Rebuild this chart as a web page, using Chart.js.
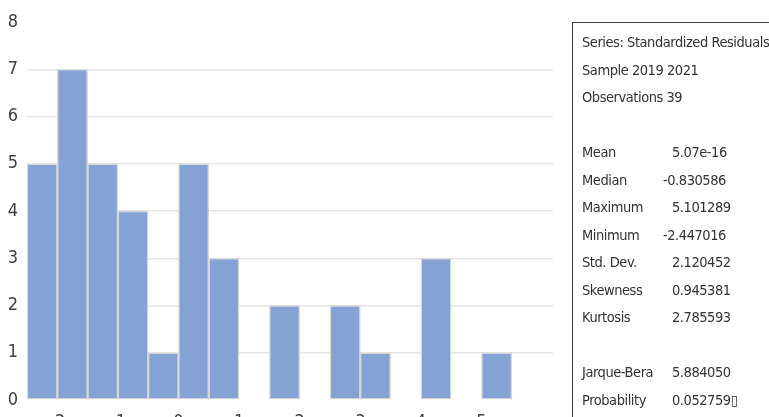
<!DOCTYPE html>
<html>
<head>
<meta charset="utf-8">
<script src="https://cdn.jsdelivr.net/npm/chart.js@4.4.1/dist/chart.umd.min.js"></script>
<style>
  body { margin: 0; background: #fff; overflow: hidden; }
  #wrap { position: relative; width: 769px; height: 417px; overflow: hidden; }
  #hist { position: absolute; left: 0; top: 0; }
  #stats {
    position: absolute; left: 572px; top: 22px; width: 230px; height: 420px;
    border: 1.5px solid #3a3a3a; border-right: none; border-bottom: none;
    box-sizing: border-box; padding: 6px 0 0 9px;
    font-family: 'Liberation Sans Narrow', 'DejaVu Sans Condensed', 'Open Sans', sans-serif;
    font-size: 14.5px; letter-spacing: -0.45px; line-height: 27.5px; color: #333; white-space: nowrap;
  }
  .row { display: flex; height: 27.5px; }
  .lab { width: 90px; }
  .neg { margin-left: -9px; }
</style>
</head>
<body>
<div id="wrap">
  <canvas id="hist" width="769" height="440"></canvas>
  <div id="stats"></div>
</div>
<script>
// histogram bins (width 0.5) and counts
const binCenters = [-2.25, -1.75, -1.25, -0.75, -0.25, 0.25, 0.75, 1.25, 1.75, 2.25, 2.75, 3.25, 3.75, 4.25, 4.75, 5.25];
const counts     = [5, 7, 5, 4, 1, 5, 3, 0, 2, 0, 2, 1, 0, 3, 0, 1];
const xTickValues = [-2, -1, 0, 1, 2, 3, 4, 5];

// stats panel text
const headerLines = ['Series: Standardized Residuals', 'Sample 2019 2021', 'Observations 39'];
const statLabels  = ['Mean', 'Median', 'Maximum', 'Minimum', 'Std. Dev.', 'Skewness', 'Kurtosis'];
const statValues  = ['5.07e-16', '-0.830586', '5.101289', '-2.447016', '2.120452', '0.945381', '2.785593'];
const testLabels  = ['Jarque-Bera', 'Probability'];
const testValues  = ['5.884050', '0.052759\u25AF'];

const fontFamily = "'Liberation Sans Narrow', 'DejaVu Sans Condensed', 'Open Sans', sans-serif";
const tickFont = { family: fontFamily, size: 18 };

// x tick labels, placed with the x scale (they sit half cut off at the bottom edge)
const xLabels = {
  id: 'xLabels',
  afterDraw(chart) {
    const ctx = chart.ctx;
    const sx = chart.scales.x;
    ctx.save();
    ctx.font = '18px ' + fontFamily;
    ctx.fillStyle = '#404040';
    ctx.textAlign = 'center';
    ctx.textBaseline = 'alphabetic';
    xTickValues.forEach(v => ctx.fillText(String(v), sx.getPixelForValue(v), sx.top + 27));
    ctx.restore();
  }
};

new Chart(document.getElementById('hist'), {
  type: 'bar',
  data: {
    datasets: [{
      data: binCenters.map((x, i) => ({ x: x, y: counts[i] === 0 ? null : counts[i] })),
      backgroundColor: '#84a2d4',
      borderColor: '#d6d6d6',
      borderWidth: 1.5,
      borderSkipped: false,
      barPercentage: 1,
      categoryPercentage: 1
    }]
  },
  plugins: [xLabels],
  options: {
    responsive: false,
    animation: false,
    layout: { padding: { top: 22, right: 216, left: 0, bottom: 0 } },
    plugins: { legend: { display: false }, tooltip: { enabled: false } },
    scales: {
      x: {
        type: 'linear',
        offset: false,
        min: -2.5,
        max: 6.18,
        grid: { display: false },
        border: { display: false },
        afterFit: s => { s.height = 40; },
        ticks: { display: false, stepSize: 1 }
      },
      y: {
        min: 0,
        max: 8,
        grid: {
          color: c => (c.tick.value === 0 || c.tick.value === 8) ? 'rgba(0,0,0,0)' : '#e6e6e6',
          lineWidth: 1.5,
          drawTicks: false
        },
        border: { display: false },
        afterFit: s => { s.width = 27; },
        ticks: { stepSize: 1, font: tickFont, color: '#404040', padding: 9 }
      }
    }
  }
});

// stats box
const box = document.getElementById('stats');
let html = headerLines.map(t => '<div class="row">' + t + '</div>').join('');
html += '<div class="row"></div>';
const rowHtml = (l, v) => '<div class="row"><span class="lab">' + l + '</span><span' + (v[0] === '-' ? ' class="neg"' : '') + '>' + v + '</span></div>';
html += statLabels.map((l, i) => rowHtml(l, statValues[i])).join('');
html += '<div class="row"></div>';
html += testLabels.map((l, i) => rowHtml(l, testValues[i])).join('');
box.innerHTML = html;
</script>
</body>
</html>
